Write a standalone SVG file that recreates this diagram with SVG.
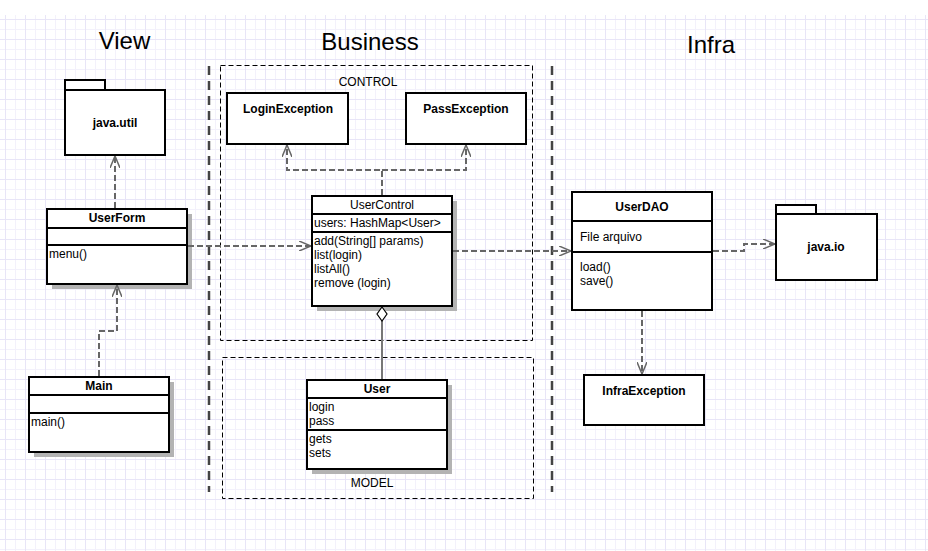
<svg xmlns="http://www.w3.org/2000/svg" width="928" height="551" viewBox="0 0 928 551">
<defs>
<pattern id="grid" patternUnits="userSpaceOnUse" x="5" y="19" width="20" height="20">
<path d="M10.5,0 V20 M0,10.5 H20" stroke="#f3f1fb" stroke-width="1" fill="none"/>
<path d="M0.5,0 V20 M0,0.5 H20" stroke="#e8e5f7" stroke-width="1" fill="none"/>
</pattern>
<marker id="open" viewBox="0 0 12 10" refX="12" refY="5" markerUnits="userSpaceOnUse" markerWidth="12" markerHeight="10" orient="auto">
<path d="M0,0 L12,5 L0,10" fill="none" stroke="#666" stroke-width="1.5"/>
</marker>
</defs>
<style>
text{font-family:"Liberation Sans",Arial,sans-serif;fill:#000}
.title{font-size:24px;text-anchor:middle}
.b{font-size:12px;font-weight:bold;text-anchor:middle}
.t{font-size:12px}
.c{font-size:12px;text-anchor:middle}
.box{fill:#fff;stroke:#000;stroke-width:2}
.div{stroke:#000;stroke-width:2}
.sh{fill:#b3b3b3}
.dbox{fill:none;stroke:#000;stroke-width:1;stroke-dasharray:5,3}
.sep{stroke:#444;stroke-width:2.5;stroke-dasharray:9,6}
.con{fill:none;stroke:#666;stroke-width:2;stroke-dasharray:6,3}
</style>
<rect x="0" y="0" width="928" height="551" fill="#fff"/>
<rect x="0" y="15" width="928" height="536" fill="url(#grid)"/>

<text class="title" x="124.5" y="49">View</text>
<text class="title" x="370" y="50">Business</text>
<text class="title" x="711" y="53">Infra</text>

<g id="separators">
<line class="sep" x1="209" y1="66" x2="209" y2="492"/>
<line class="sep" x1="552" y1="66" x2="552" y2="492"/>
</g>

<g id="control">
<rect class="dbox" x="220.5" y="65.5" width="312" height="275"/>
<text class="c" x="368" y="86">CONTROL</text>
</g>
<g id="model">
<rect class="dbox" x="222.5" y="357.5" width="311" height="141"/>
<text class="c" x="372" y="487">MODEL</text>
</g>

<g id="java-util">
<rect class="box" x="65" y="80" width="40" height="10"/>
<rect class="box" x="65" y="90" width="100" height="65"/>
<text class="b" x="115" y="127">java.util</text>
</g>

<g id="UserForm">
<rect class="sh" x="52" y="214" width="140" height="75"/>
<rect class="box" x="47" y="209" width="140" height="75"/>
<line class="div" x1="47" y1="228" x2="187" y2="228"/>
<line class="div" x1="47" y1="245" x2="187" y2="245"/>
<text class="b" x="117" y="222">UserForm</text>
<text class="t" x="49" y="258">menu()</text>
</g>

<g id="Main">
<rect class="sh" x="34" y="382" width="140" height="75"/>
<rect class="box" x="29" y="377" width="140" height="75"/>
<line class="div" x1="29" y1="395" x2="169" y2="395"/>
<line class="div" x1="29" y1="413" x2="169" y2="413"/>
<text class="b" x="99" y="390">Main</text>
<text class="t" x="31" y="426">main()</text>
</g>

<g id="LoginException">
<rect class="box" x="227" y="93" width="121" height="51"/>
<text class="b" x="288" y="113">LoginException</text>
</g>

<g id="PassException">
<rect class="box" x="406" y="93" width="120" height="51"/>
<text class="b" x="466" y="113">PassException</text>
</g>

<g id="UserControl">
<rect class="sh" x="317" y="201" width="140" height="110"/>
<rect class="box" x="312" y="196" width="140" height="110"/>
<line class="div" x1="312" y1="214" x2="452" y2="214"/>
<line class="div" x1="312" y1="232" x2="452" y2="232"/>
<text class="c" x="382" y="209">UserControl</text>
<text class="t" x="314" y="227">users: HashMap&lt;User&gt;</text>
<text class="t" x="314" y="245">add(String[] params)</text>
<text class="t" x="314" y="259">list(login)</text>
<text class="t" x="314" y="273">listAll()</text>
<text class="t" x="314" y="287">remove (login)</text>
</g>

<g id="User">
<rect class="sh" x="312" y="385" width="140" height="89"/>
<rect class="box" x="307" y="380" width="140" height="89"/>
<line class="div" x1="307" y1="398" x2="447" y2="398"/>
<line class="div" x1="307" y1="430" x2="447" y2="430"/>
<text class="b" x="377" y="393">User</text>
<text class="t" x="309" y="411">login</text>
<text class="t" x="309" y="425">pass</text>
<text class="t" x="309" y="443">gets</text>
<text class="t" x="309" y="457">sets</text>
</g>

<g id="UserDAO">
<rect class="box" x="572" y="192" width="140" height="118"/>
<line class="div" x1="572" y1="221" x2="712" y2="221"/>
<line class="div" x1="572" y1="252" x2="712" y2="252"/>
<text class="b" x="642" y="211">UserDAO</text>
<text class="t" x="580" y="241">File arquivo</text>
<text class="t" x="580" y="271">load()</text>
<text class="t" x="580" y="285">save()</text>
</g>

<g id="java-io">
<rect class="box" x="776" y="205" width="40" height="9"/>
<rect class="box" x="776" y="214" width="101" height="66"/>
<text class="b" x="826" y="251">java.io</text>
</g>

<g id="InfraException">
<rect class="box" x="584" y="375" width="120" height="50"/>
<text class="b" x="644" y="395">InfraException</text>
</g>

<g id="connectors">
<path class="con" d="M115,208 V156" marker-end="url(#open)"/>
<path class="con" d="M99,376 V331 H117 V285" marker-end="url(#open)"/>
<path class="con" d="M188,246 H311" marker-end="url(#open)"/>
<path class="con" d="M382,195 V170 H287 V145" marker-end="url(#open)"/>
<path class="con" d="M382,170 H466 V145" marker-end="url(#open)"/>
<path class="con" d="M453,251 H571" marker-end="url(#open)"/>
<path class="con" d="M713,251 H744 V244 H775" marker-end="url(#open)"/>
<path class="con" d="M642,311 V374" marker-end="url(#open)"/>
<path d="M382,321 V379" fill="none" stroke="#777" stroke-width="2"/>
<path d="M382,307 L387,314 L382,321 L377,314 Z" fill="#fff" stroke="#000" stroke-width="1.2"/>
</g>
</svg>
